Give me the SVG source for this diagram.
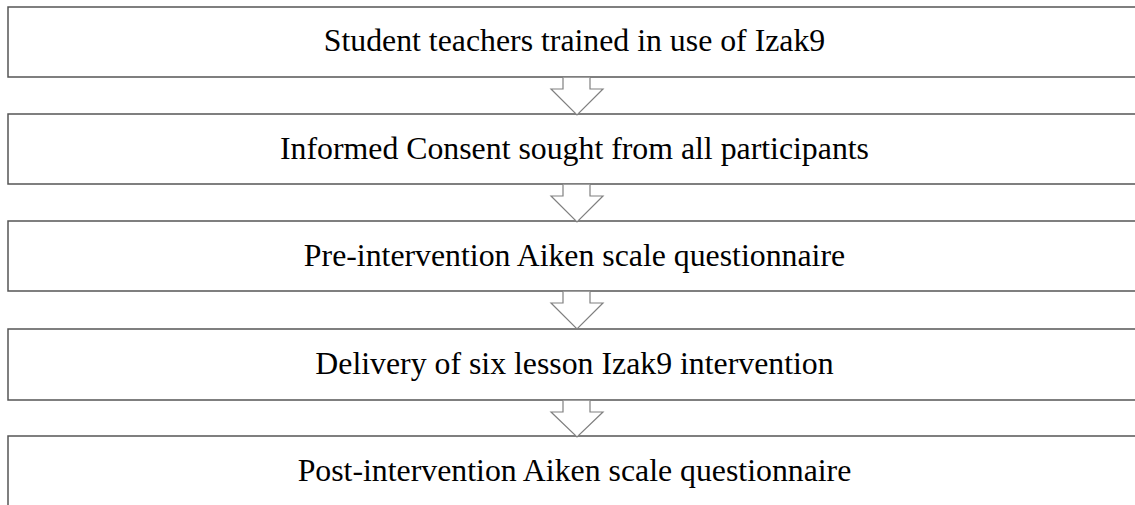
<svg xmlns="http://www.w3.org/2000/svg" width="1135" height="505" viewBox="0 0 1135 505">
<style>
.box{fill:#fff;stroke:#555;stroke-width:1.5}
.arr{fill:#fff;stroke:#808080;stroke-width:1.2}
.t{font-family:"Liberation Serif",serif;font-size:31.8px;fill:#000;text-anchor:middle}
</style>
<rect width="1135" height="505" fill="#fff"/>
<g id="n1"><rect class="box" x="8" y="7" width="1140" height="70"/><text class="t" x="574.5" y="51">Student teachers trained in use of Izak9</text></g>
<g id="n2"><rect class="box" x="8" y="114" width="1140" height="70"/><text class="t" x="574.5" y="159">Informed Consent sought from all participants</text></g>
<g id="n3"><rect class="box" x="8" y="221" width="1140" height="70"/><text class="t" x="574.5" y="266">Pre-intervention Aiken scale questionnaire</text></g>
<g id="n4"><rect class="box" x="8" y="329" width="1140" height="71"/><text class="t" x="574.5" y="374">Delivery of six lesson Izak9 intervention</text></g>
<g id="n5"><rect class="box" x="8" y="436" width="1140" height="90"/><text class="t" x="574.5" y="481">Post-intervention Aiken scale questionnaire</text></g>
<g id="connectors">
<polyline class="arr" points="563,77.8 563,89 551,89 577,115 603,89 590,89 590,77.8"/>
<polyline class="arr" points="563,184.8 563,196 551,196 577,222 603,196 590,196 590,184.8"/>
<polyline class="arr" points="563,291.8 563,303 551,303 577,329 603,303 590,303 590,291.8"/>
<polyline class="arr" points="563,400.8 563,412 551,412 577,437 603,412 590,412 590,400.8"/>
</g>
</svg>
